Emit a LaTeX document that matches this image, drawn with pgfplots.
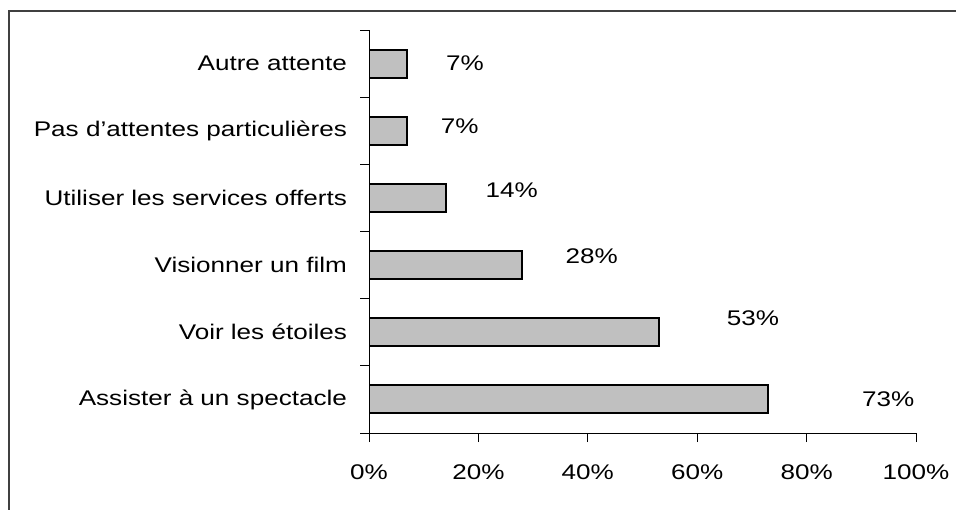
\documentclass[border=0pt]{standalone}
\usepackage{fontspec}
\setmainfont{Liberation Sans}
\usepackage{graphicx}
\usepackage{pgfplots}
\pgfplotsset{compat=1.18}
\definecolor{barfill}{RGB}{192,192,192}
\definecolor{framec}{RGB}{64,64,64}
\newcommand{\hs}[1]{\scalebox{1.23}[1]{#1}}
\begin{document}
\fontsize{10.6bp}{12.7bp}\selectfont
\begin{tikzpicture}
\useasboundingbox (0,0) rectangle (478bp,255bp);
\draw[line width=1bp, framec] (4.3bp,-2bp) -- (4.3bp,249.5bp) -- (480bp,249.5bp);
\begin{axis}[
  at={(184.5bp,38.5bp)}, anchor=south west,
  scale only axis, width=273.5bp, height=201.5bp,
  xmin=0, xmax=100, ymin=-0.5, ymax=5.5,
  axis x line*=bottom, axis y line*=left,
  axis line style={line width=0.5bp, black},
  tick style={line width=0.5bp, black},
  tick align=outside, major tick length=4.5bp,
  /pgf/number format/assume math mode=true,
  xtick={0,20,...,100},
  xticklabel={\hs{\pgfmathprintnumber{\tick}\%}},
  xticklabel style={yshift=-7.6bp},
  ytick={-0.5,0.5,...,5.5},
  y tick label as interval,
  yticklabels={{\hs{Assister à un spectacle}},{\hs{Voir les étoiles}},{\hs{Visionner un film}},{\hs{Utiliser les services offerts}},{\hs{Pas d’attentes particulières}},{\hs{Autre attente}},{}},
  yticklabel style={xshift=-2.8bp},
  xbar, bar width=14bp,
]
\addplot[draw=black, line width=1bp, fill=barfill] coordinates {
  (73,0) (53,1) (28,2) (14,3) (7,4) (7,5)
};
\node at (axis cs:94.9,0) {\hs{73\%}};
\node at (axis cs:70.2,1.21) {\hs{53\%}};
\node at (axis cs:40.7,2.13) {\hs{28\%}};
\node at (axis cs:26.1,3.12) {\hs{14\%}};
\node at (axis cs:16.6,4.07) {\hs{7\%}};
\node at (axis cs:17.55,5.0) {\hs{7\%}};
\end{axis}
\end{tikzpicture}
\end{document}
